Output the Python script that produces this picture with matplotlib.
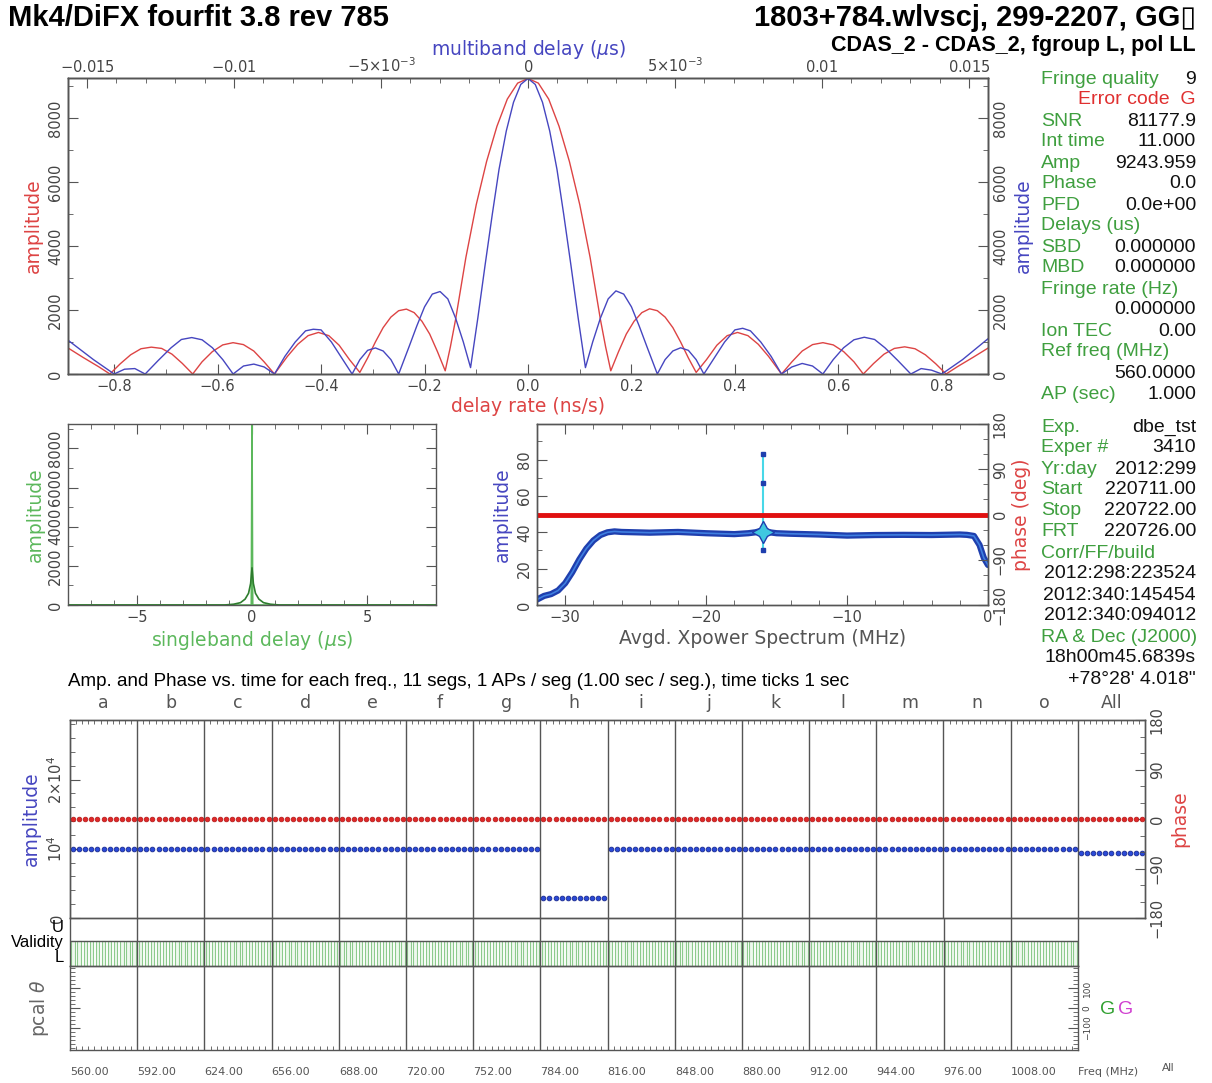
import numpy as np
import matplotlib
matplotlib.use('Agg')
from matplotlib import pyplot as plt
from matplotlib.ticker import MultipleLocator, FixedLocator

# ---- delay rate / multiband delay functions (top panel) ----
rate_x = [-0.889, -0.86, -0.83, -0.808, -0.788, -0.768, -0.748, -0.728, -0.708, -0.688, -0.668,
          -0.648, -0.63, -0.61, -0.59, -0.57, -0.55, -0.53, -0.51, -0.49, -0.465, -0.445, -0.425,
          -0.405, -0.385, -0.365, -0.345, -0.325, -0.31, -0.295, -0.28, -0.265, -0.25, -0.235,
          -0.22, -0.205, -0.19, -0.175, -0.16, -0.15, -0.14, -0.12, -0.10, -0.08, -0.06, -0.04,
          -0.02, 0.0,
          0.02, 0.04, 0.06, 0.08, 0.10, 0.12, 0.14, 0.15, 0.16, 0.175, 0.19, 0.205, 0.22, 0.235,
          0.25, 0.265, 0.28, 0.295, 0.31, 0.325, 0.345, 0.365, 0.385, 0.405, 0.425, 0.445, 0.465,
          0.49, 0.51, 0.53, 0.55, 0.57, 0.59, 0.61, 0.63, 0.648, 0.668, 0.688, 0.708, 0.728,
          0.748, 0.768, 0.788, 0.808, 0.83, 0.86, 0.889]
rate_amp = [815, 520, 230, 0, 320, 600, 790, 840, 800, 620, 330,
            0, 380, 700, 910, 980, 920, 720, 380, 0, 550, 930, 1200,
            1300, 1200, 900, 450, 50, 500, 1000, 1450, 1780, 1980, 2030,
            1920, 1650, 1250, 700, 100, 850, 1700, 3650, 5300, 6650, 7750, 8600,
            9100, 9244,
            9100, 8600, 7750, 6650, 5300, 3650, 1700, 850, 100, 700, 1250, 1650, 1920, 2040,
            1980, 1780, 1450, 1000, 500, 50, 450, 900, 1200, 1300, 1200, 930, 550,
            0, 380, 720, 920, 980, 910, 700, 380, 0, 330, 620, 800, 850,
            790, 600, 320, 0, 230, 520, 810]

# multiband delay in ns (plotted in microseconds)
mbd_ns = [-15.646, -14.784, -14.08, -13.728, -13.376, -13.024, -12.584, -12.144, -11.792, -11.44,
          -11.088, -10.736, -10.384, -10.032, -9.68, -9.328, -8.976, -8.624, -8.272, -7.92, -7.568,
          -7.304, -7.04, -6.688, -6.336, -5.984, -5.72, -5.456, -5.192, -4.928, -4.664, -4.4,
          -4.048, -3.784, -3.52, -3.256, -2.992, -2.728, -2.464, -2.2, -1.954, -1.707, -1.461,
          -1.214, -0.986, -0.739, -0.493, -0.246,
          0.0,
          0.246, 0.493, 0.739, 0.986, 1.214, 1.461, 1.707, 1.954, 2.2, 2.464, 2.728, 2.992, 3.256,
          3.52, 3.784, 4.048, 4.4, 4.664, 4.928, 5.192, 5.456, 5.72, 5.984, 6.336, 6.688, 7.04,
          7.304, 7.568, 7.92, 8.272, 8.624, 8.976, 9.328, 9.68, 10.032, 10.384, 10.736, 11.088,
          11.44, 11.792, 12.144, 12.584, 13.024, 13.376, 13.728, 14.08, 14.784, 15.646]
mbd_amp = [1055, 450, 0, 150, 170, 0, 420, 820, 1080, 1140,
           1070, 820, 450, 0, 250, 310, 220, 0, 550, 1000, 1350,
           1400, 1380, 1000, 500, 0, 450, 740, 815, 720, 450, 0,
           850, 1500, 2100, 2500, 2580, 2350, 1750, 1000, 200, 1750, 3400,
           5000, 6400, 7600, 8500, 9060,
           9244,
           9060, 8500, 7600, 6400, 5000, 3400, 1750, 200, 1000, 1750, 2350, 2600, 2500,
           2100, 1500, 850, 0, 450, 720, 820, 740, 450, 0, 500, 1000, 1380,
           1430, 1350, 1000, 550, 0, 220, 330, 250, 0, 450, 820, 1070,
           1150, 1080, 820, 420, 0, 170, 120, 0, 450, 1100]

# ---- singleband delay (middle left) ----
sbd_x = [-8, -1.2, -0.8, -0.5, -0.3, -0.15, -0.06, 0, 0.06, 0.15, 0.3, 0.5, 0.8, 1.2, 8]
sbd_amp = [0, 0, 40, 120, 300, 600, 1100, 1900, 1100, 600, 300, 120, 40, 0, 0]
sbd_peak_x = [-8, -0.03, 0, 0.03, 8]
sbd_peak_amp = [0, 0, 9244, 0, 0]

# ---- averaged cross power spectrum (middle right) ----
xp_f = [-32, -31.5, -31, -30.5, -30, -29.5, -29, -28.5, -28, -27.5, -27, -26.5, -26, -24, -22,
        -20, -18, -17, -16.5, -16, -15.5, -15, -14, -12, -10, -8, -6, -4, -2, -1.5, -1, -0.6,
        -0.3, 0]
xp_amp = [3, 5, 6, 8, 12, 18, 25, 31, 35.5, 38.5, 40, 40.5, 40.2, 39.8, 40.2,
          39.5, 39, 39.5, 40, 41, 40, 39.5, 39.2, 38.8, 38.2, 38.5, 38.6, 38.5, 38.8, 38.6, 38, 33,
          26, 22]
xp_phase = [0.0] * len(xp_f)
spike_f = [-16, -16, -16]
spike_amp = [30, 67, 83]

# ---- per channel amplitude / phase (bottom) ----
chan_labels = ['a', 'b', 'c', 'd', 'e', 'f', 'g', 'h', 'i', 'j', 'k', 'l', 'm', 'n', 'o', 'All']
chan_freq = ['560.00', '592.00', '624.00', '656.00', '688.00', '720.00', '752.00', '784.00',
             '816.00', '848.00', '880.00', '912.00', '944.00', '976.00', '1008.00']
chan_amp = [9900, 9900, 9900, 9900, 9900, 9900, 9900, 2900, 9900, 9900, 9900, 9900, 9900, 9900,
            9900, 9430]
chan_phase = [0, 0, 0, 0, 0, 0, 0, 0, 0, 0, 0, 0, 0, 0, 0, 0]
chan_valid = [1, 1, 1, 1, 1, 1, 1, 1, 1, 1, 1, 1, 1, 1, 1]
n_seg = 11

info_top = [("Fringe quality", "9"), ("", "Error code  G"), ("SNR", "81177.9"),
            ("Int time", "11.000"), ("Amp", "9243.959"), ("Phase", "0.0"), ("PFD", "0.0e+00"),
            ("Delays (us)", ""), ("SBD", "0.000000"), ("MBD", "0.000000"),
            ("Fringe rate (Hz)", ""), ("", "0.000000"), ("Ion TEC", "0.00"),
            ("Ref freq (MHz)", ""), ("", "560.0000"), ("AP (sec)", "1.000")]
info_bot = [("Exp.", "dbe_tst"), ("Exper #", "3410"), ("Yr:day", "2012:299"),
            ("Start", "220711.00"), ("Stop", "220722.00"), ("FRT", "220726.00"),
            ("Corr/FF/build", ""), ("", "2012:298:223524"), ("", "2012:340:145454"),
            ("", "2012:340:094012"), ("RA & Dec (J2000)", ""), ("", "18h00m45.6839s"),
            ("", "+78\u00b028' 4.018\"")]

RED = '#dd4444'
BLUE = '#4646c0'
GREEN = '#3f9f3f'
LGREEN = '#5cb85c'
FRAME = '#555555'
TICKC = '#444444'
HELV = ['Liberation Sans', 'DejaVu Sans']

W, H = 1212, 1083
fig = plt.figure(figsize=(W / 100, H / 100), dpi=100)


def px_axes(x0, y0, x1, y1):
    return fig.add_axes([x0 / W, 1 - y1 / H, (x1 - x0) / W, (y1 - y0) / H])


def ftext(x, y, s, **kw):
    fig.text(x / W, 1 - y / H, s, **kw)


def pg_style(ax, axis='both'):
    for s in ax.spines.values():
        s.set_color(FRAME)
        s.set_linewidth(1.0)
    ax.tick_params(axis=axis, which='both', direction='in', colors=FRAME,
                   labelcolor=TICKC, labelsize=10.5)
    ax.tick_params(axis=axis, which='major', length=7)
    ax.tick_params(axis=axis, which='minor', length=3.5)


def rot_ylabels(ax, side):
    for lab in ax.get_yticklabels():
        lab.set_rotation(90)
        lab.set_va('center')
        lab.set_ha('right' if side == 'left' else 'left')


# ---------------- top panel ----------------
ax1 = px_axes(68, 78, 988, 374)
ax1.plot(rate_x, rate_amp, color=RED, lw=1.0)
ax1.set_xlim(-0.889, 0.889)
ax1.set_ylim(0, 9260)
ax1.xaxis.set_major_locator(MultipleLocator(0.2))
ax1.xaxis.set_minor_locator(MultipleLocator(0.1))
ax1.yaxis.set_major_locator(MultipleLocator(2000))
ax1.yaxis.set_minor_locator(MultipleLocator(1000))
pg_style(ax1)
ax1.set_xlabel('delay rate (ns/s)', color=RED, fontsize=13.5, labelpad=2)
ax1.set_ylabel('amplitude', color=RED, fontsize=13.5, labelpad=4)

ax1t = ax1.twiny()
ax1t.plot([v * 1e-3 for v in mbd_ns], mbd_amp, color=BLUE, lw=1.0)
ax1t.set_xlim(-0.01565, 0.01565)
ax1t.set_xticks([-0.015, -0.01, -0.005, 0, 0.005, 0.01, 0.015],
                [r'$-0.015$', r'$-0.01$', r'$-5{\times}10^{-3}$', r'$0$', r'$5{\times}10^{-3}$',
                 r'$0.01$', r'$0.015$'])
ax1t.xaxis.set_minor_locator(MultipleLocator(0.001))
pg_style(ax1t, 'x')
ax1t.tick_params(axis='x', pad=2)
ax1t.set_xlabel(r'multiband delay ($\mu$s)', color=BLUE, fontsize=13.5, labelpad=1)

ax1r = ax1.twinx()
ax1r.set_ylim(0, 9260)
ax1r.yaxis.set_major_locator(MultipleLocator(2000))
ax1r.yaxis.set_minor_locator(MultipleLocator(1000))
pg_style(ax1r, 'y')
ax1r.set_ylabel('amplitude', color=BLUE, fontsize=13.5, labelpad=4)
rot_ylabels(ax1, 'left')
rot_ylabels(ax1r, 'right')

# ---------------- singleband delay ----------------
ax2 = px_axes(68, 424, 436, 605)
ax2.plot(sbd_peak_x, sbd_peak_amp, color=LGREEN, lw=1.2)
ax2.plot(sbd_x, sbd_amp, color='#2e7d2e', lw=1.2)
ax2.set_xlim(-8, 8)
ax2.set_ylim(0, 9250)
ax2.xaxis.set_major_locator(MultipleLocator(5))
ax2.xaxis.set_minor_locator(MultipleLocator(1))
ax2.yaxis.set_major_locator(MultipleLocator(2000))
ax2.yaxis.set_minor_locator(MultipleLocator(1000))
pg_style(ax2)
ax2.tick_params(which='both', top=True, right=True)
ax2.set_xlabel(r'singleband delay ($\mu$s)', color=LGREEN, fontsize=13.5, labelpad=3)
ax2.set_ylabel('amplitude', color=LGREEN, fontsize=13.5, labelpad=2)
rot_ylabels(ax2, 'left')

# ---------------- cross power spectrum ----------------
ax3 = px_axes(537, 424, 988, 605)
ax3.plot(xp_f, xp_amp, color='#1f3fae', lw=4.5, solid_capstyle='round')
ax3.plot(xp_f, xp_amp, color='#3f7fe0', lw=1.2)
ax3.plot(spike_f, spike_amp, color='#48d8e8', lw=1.5)
ax3.plot(spike_f, spike_amp, 's', color='#1f3fae', ms=3.5)
ax3.plot([-16], [40], marker=(4, 1, 0), color='#40c8e0', mec='#1f3fae', ms=16)
ax3.set_xlim(-32, 0)
ax3.set_ylim(0, 99.6)
ax3.xaxis.set_major_locator(MultipleLocator(10))
ax3.xaxis.set_minor_locator(MultipleLocator(2))
ax3.yaxis.set_major_locator(MultipleLocator(20))
ax3.yaxis.set_minor_locator(MultipleLocator(10))
pg_style(ax3)
ax3.tick_params(which='both', top=True)
ax3.set_xlabel('Avgd. Xpower Spectrum (MHz)', color='#555555', fontsize=13.5, labelpad=3)
ax3.set_ylabel('amplitude', color=BLUE, fontsize=13.5, labelpad=4)
ax3p = ax3.twinx()
ax3p.plot(xp_f, xp_phase, color='#e01010', lw=3.5)
ax3p.set_ylim(-180, 180)
ax3p.set_yticks([-180, -90, 0, 90, 180])
ax3p.yaxis.set_minor_locator(MultipleLocator(30))
pg_style(ax3p, 'y')
ax3p.set_ylabel('phase (deg)', color=RED, fontsize=13.5, labelpad=3)
rot_ylabels(ax3, 'left')
rot_ylabels(ax3p, 'right')

# ---------------- amplitude & phase vs time per channel ----------------
n_ch = len(chan_labels)
seg_x = np.arange(n_ch * n_seg) + 0.5
amp_pts = np.repeat(chan_amp, n_seg)
ph_pts = np.repeat(chan_phase, n_seg)

ax4 = px_axes(70, 720, 1145, 918)
ax4.set_xlim(0, n_ch * n_seg)
ax4.set_ylim(0, 28600)
for c in range(1, n_ch):
    ax4.axvline(c * n_seg, color=FRAME, lw=1.0)
ax4.plot(seg_x, amp_pts, 'o', color='#2a4ad8', mec='#1a2a90', mew=0.6, ms=3.4, zorder=3)
ax4.set_yticks([0, 10000, 20000], ['0', r'$10^4$', r'$2{\times}10^4$'])
ax4.yaxis.set_minor_locator(MultipleLocator(2000))
ax4.set_xticks([])
ax4.xaxis.set_minor_locator(MultipleLocator(1))
pg_style(ax4)
ax4.tick_params(axis='x', which='minor', top=True, bottom=False, length=3)
ax4.set_ylabel('amplitude', color=BLUE, fontsize=13.5, labelpad=4)
for c, lab in enumerate(chan_labels):
    ax4.text((c + 0.5) * n_seg, 1.086, lab, transform=ax4.get_xaxis_transform(),
             ha='center', va='center', color='#555555', fontsize=12.5)
ax4p = ax4.twinx()
ax4p.plot(seg_x, ph_pts, 'o', color='#e02828', mec='#b01818', mew=0.5, ms=3.4, zorder=3)
ax4p.set_ylim(-180, 180)
ax4p.set_yticks([-180, -90, 0, 90, 180])
ax4p.yaxis.set_minor_locator(MultipleLocator(30))
pg_style(ax4p, 'y')
ax4p.set_ylabel('phase', color=RED, fontsize=13.5, labelpad=4)
rot_ylabels(ax4, 'left')
rot_ylabels(ax4p, 'right')

# validity strip
n_val = len(chan_valid)
val_x = np.arange(n_val * n_seg) + 0.5
ax5 = px_axes(70, 918, 1078, 966)
ax5.patch.set_alpha(0)
ax5.set_xlim(0, n_val * n_seg)
ax5.set_ylim(0, 1.92)
ax5.bar(val_x, np.repeat(chan_valid, n_seg), width=0.55, bottom=0,
        color='#eef8ee', edgecolor='#8cca8c', lw=0.8)
for c in range(1, n_val):
    ax5.axvline(c * n_seg, color=FRAME, lw=1.0)
ax5.axhline(1.0, color=FRAME, lw=1.0)
ax5.set_xticks([])
ax5.set_yticks([])
pg_style(ax5)
ax5.spines['top'].set_visible(False)

# pcal strip
ax6 = px_axes(70, 966, 1078, 1050)
ax6.patch.set_alpha(0)
ax6.set_xlim(0, n_val * n_seg)
ax6.set_ylim(-210, 210)
for c in range(1, n_val):
    ax6.axvline(c * n_seg, color=FRAME, lw=1.0)
ax6.set_xticks([c * n_seg for c in range(n_val)] + [n_val * n_seg], chan_freq + ['Freq (MHz)'])
for lab in ax6.get_xticklabels():
    lab.set_ha('left')
ax6.xaxis.set_minor_locator(MultipleLocator(1))
ax6.yaxis.set_major_locator(FixedLocator([-100, 0, 100]))
ax6.yaxis.set_minor_locator(MultipleLocator(20))
pg_style(ax6)
ax6.tick_params(axis='x', which='major', length=0, pad=12, labelsize=8, labelcolor='#555555')
ax6.tick_params(axis='x', which='minor', length=3)
ax6.tick_params(axis='y', which='both', left=True, right=True, labelleft=False,
                labelright=True, labelsize=6.5)
ax6.set_ylabel(r'pcal $\theta$', color='#666666', fontsize=13.5, labelpad=14)
rot_ylabels(ax6, 'right')

# ---------------- header & annotation text ----------------
ftext(8, 18, 'Mk4/DiFX fourfit 3.8 rev 785', fontsize=21, fontweight='bold', family=HELV,
      va='center')
ftext(1196, 18, '1803+784.wlvscj, 299-2207, GG\u25af', fontsize=21, fontweight='bold',
      family=HELV, va='center', ha='right')
ftext(1196, 45, 'CDAS_2 - CDAS_2, fgroup L, pol LL', fontsize=15.5, fontweight='bold',
      family=HELV, va='center', ha='right')
ftext(68, 681, 'Amp. and Phase vs. time for each freq., 11 segs, 1 APs / seg (1.00 sec / seg.), '
      'time ticks 1 sec', fontsize=13.5, family=HELV, va='center')
ftext(64, 943, 'Validity', fontsize=12, family=HELV, va='center', ha='right')
ftext(64, 928, 'U', fontsize=12, family=HELV, va='center', ha='right')
ftext(64, 958, 'L', fontsize=12, family=HELV, va='center', ha='right')
ftext(1100, 1010, 'G', fontsize=14, family=HELV, va='center', color='#30a030')
ftext(1118, 1010, 'G', fontsize=14, family=HELV, va='center', color='#d040d0')
ftext(1162, 1068, 'All', fontsize=8, family=HELV, va='center', color='#555555')

for i, (lab, val) in enumerate(info_top):
    y = 79 + 21 * i
    if lab == '' and val.startswith('Error'):
        ftext(1196, y, val, fontsize=14, family=HELV, va='center', ha='right', color='#e03030')
        continue
    ftext(1041, y, lab, fontsize=14, family=HELV, va='center', color=GREEN)
    ftext(1196, y, val, fontsize=14, family=HELV, va='center', ha='right', color='#111111')
for i, (lab, val) in enumerate(info_bot):
    y = 427 + 21 * i
    ftext(1041, y, lab, fontsize=14, family=HELV, va='center', color=GREEN)
    ftext(1196, y, val, fontsize=14, family=HELV, va='center', ha='right', color='#111111')

fig.savefig('out.png', dpi=100)
